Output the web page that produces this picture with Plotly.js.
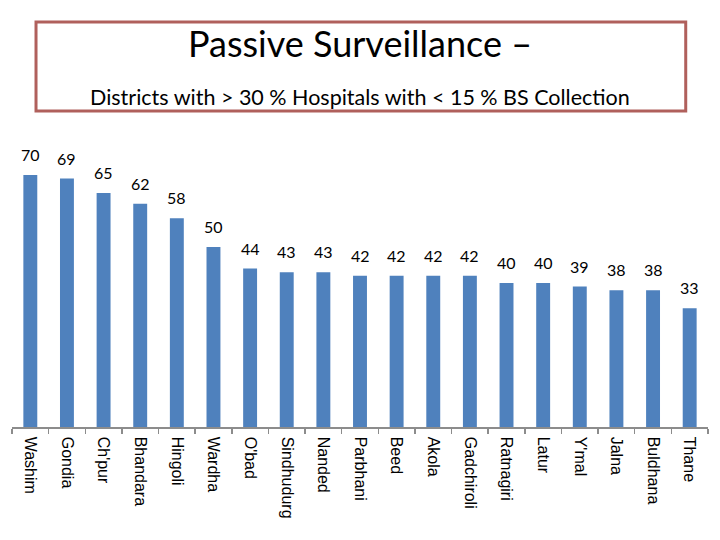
<!DOCTYPE html>
<html><head><meta charset="utf-8">
<script src="https://cdn.plot.ly/plotly-3.0.1.min.js"></script>
<style>body{margin:0;background:#fff}#c{width:720px;height:540px}</style>
</head><body><div id="c"></div>
<script>
const districts = ["Washim","Gondia","Ch'pur","Bhandara","Hingoli","Wardha","O'bad","Sindhudurg","Nanded","Parbhani","Beed","Akola","Gadchiroli","Ratnagiri","Latur","Y'mal","Jalna","Buldhana","Thane"];
const values = [70,69,65,62,58,50,44,43,43,42,42,42,42,40,40,39,38,38,33];
const titleText = "Passive Surveillance –";
const subtitleText = "Districts with > 30 % Hospitals with < 15 % BS Collection";

const trace = {
  type: 'bar', x: districts, y: values,
  marker: {color: '#4F81BD'},
  hoverinfo: 'none'
};
const labels = districts.map((d, i) => ({
  x: d, y: values[i], xref: 'x', yref: 'y', text: String(values[i]),
  showarrow: false, yanchor: 'bottom', yshift: 9,
  font: {family: 'Lato, Carlito, sans-serif', size: 16, color: '#000'}
}));
labels.push({
  x: 0.5, y: 1.146, xref: 'paper', yref: 'paper', text: subtitleText,
  showarrow: false, xanchor: 'center', yanchor: 'middle',
  font: {family: 'Lato, Carlito, sans-serif', size: 21.5, color: '#000'}
});
const layout = {
  width: 720, height: 540,
  margin: {l: 12, r: 12, t: 139, b: 113},
  paper_bgcolor: '#fff', plot_bgcolor: '#fff',
  bargap: 0.62,
  showlegend: false,
  title: {text: titleText, x: 0.5, xanchor: 'center', xref: 'paper', y: 1 - 44/540, yanchor: 'middle',
          font: {family: 'Lato, Carlito, sans-serif', size: 36, color: '#000'}},
  xaxis: {
    tickangle: 90, showline: true, linecolor: '#8c8c8c', linewidth: 1.5,
    ticks: 'outside', tickson: 'boundaries', ticklen: 5, tickcolor: '#8c8c8c', tickwidth: 1.5,
    ticklabelstandoff: 5,
    tickfont: {family: 'Liberation Sans, Arial, sans-serif', size: 16, color: '#000'},
    showgrid: false, zeroline: false, fixedrange: true
  },
  yaxis: {range: [0, 80], visible: false, showgrid: false, zeroline: false},
  shapes: [{
    type: 'rect', xref: 'paper', yref: 'paper',
    x0: 0.0345, x1: 0.968, y0: 1.097, y1: 1.406,
    line: {color: '#B0605C', width: 3}, fillcolor: 'rgba(0,0,0,0)'
  }],
  annotations: labels
};
Plotly.newPlot('c', [trace], layout, {staticPlot: true, displayModeBar: false});
</script></body></html>
